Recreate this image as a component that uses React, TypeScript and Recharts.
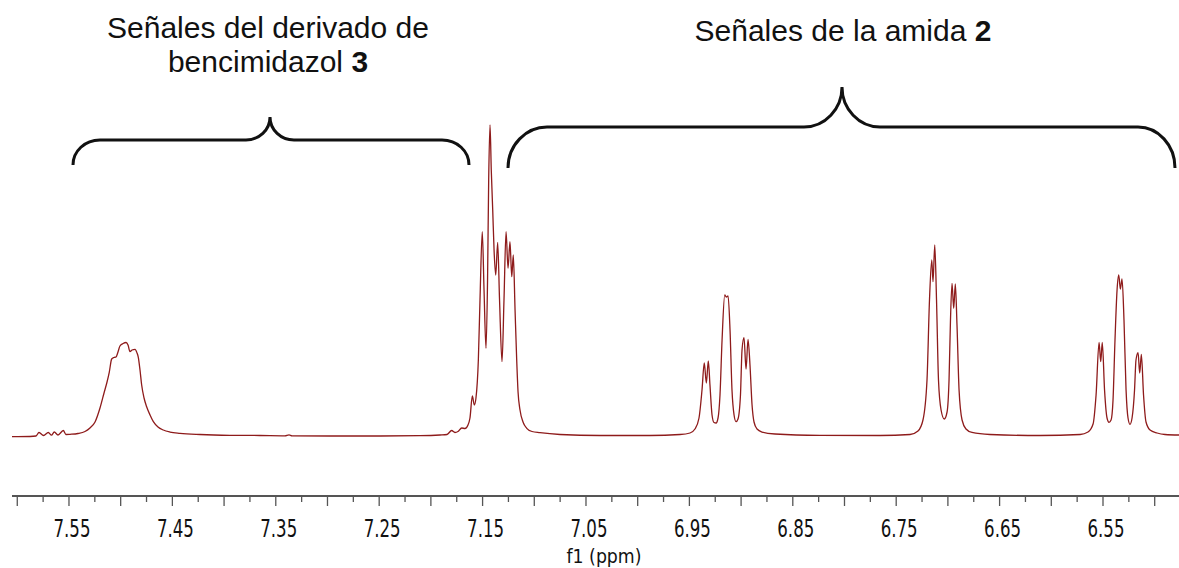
import { LineChart, Line, XAxis, YAxis } from "recharts";

// chemical shift (ppm) of each point
const shifts = [
  7.6051, 7.5877, 7.5819, 7.579, 7.5746, 7.57, 7.5669, 7.5642, 7.5606, 7.5555,
  7.5529, 7.549, 7.5413, 7.5345, 7.5297, 7.5248, 7.52, 7.5161, 7.5132, 7.511,
  7.5087, 7.5065, 7.5045, 7.5026, 7.5007, 7.4977, 7.4948, 7.4929, 7.491, 7.489,
  7.4861, 7.4842, 7.483, 7.4813, 7.4797, 7.4774, 7.4748, 7.4716, 7.4684, 7.4639,
  7.4588, 7.4523, 7.4426, 7.4233, 7.3943, 7.3653, 7.3411, 7.3372, 7.3343, 7.2976,
  7.2492, 7.2105, 7.1912, 7.1844, 7.1799, 7.1767, 7.1738, 7.1702, 7.167, 7.1641,
  7.1622, 7.1599, 7.158, 7.1564, 7.1541, 7.1525, 7.1503, 7.1486, 7.1467, 7.1452,
  7.1441, 7.1428, 7.1416, 7.1402, 7.1389, 7.1373, 7.1354, 7.1336, 7.1312, 7.1293,
  7.1273, 7.1254, 7.1235, 7.1218, 7.1203, 7.1186, 7.117, 7.1157, 7.1138, 7.1109,
  7.1073, 7.1022, 7.0945, 7.0751, 7.0364, 6.9881, 6.9591, 6.9494, 6.9446, 6.9407,
  6.9378, 6.9356, 6.9336, 6.9317, 6.9301, 6.9281, 6.9262, 6.9242, 6.9223, 6.9204,
  6.9184, 6.9158, 6.9143, 6.9126, 6.9107, 6.9088, 6.9068, 6.9049, 6.903, 6.9006,
  6.8991, 6.8972, 6.8952, 6.8933, 6.8914, 6.8894, 6.8875, 6.8846, 6.8798, 6.8672,
  6.8237, 6.7656, 6.7366, 6.7289, 6.7241, 6.7202, 6.7178, 6.7156, 6.7144, 6.7127,
  6.711, 6.7091, 6.7066, 6.7035, 6.7008, 6.6989, 6.6975, 6.696, 6.6944, 6.6928,
  6.6912, 6.6892, 6.6863, 6.6825, 6.6767, 6.6593, 6.6109, 6.5722, 6.5645, 6.5596,
  6.5567, 6.5538, 6.5522, 6.5507, 6.5485, 6.5461, 6.5442, 6.5422, 6.5403, 6.5384,
  6.5364, 6.5348, 6.5332, 6.5316, 6.5297, 6.5277, 6.5258, 6.5239, 6.5219, 6.5195,
  6.5181, 6.5161, 6.5145, 6.5129, 6.5108, 6.5084, 6.5045, 6.4977, 6.49, 6.4765,
];

// intensity (arbitrary units) at the same points
const intensity = [
  -0.23, -0.17, 0, 1.17, 0.17, 1.17, 0.27, 1.33, 0.33, 1.83,
  0.5, 0.57, 0.83, 1.5, 2.67, 4.67, 9.33, 14.33, 18, 21.33,
  25.67, 26.17, 26.33, 28, 30, 30.83, 31.17, 30.33, 28.17, 28.67,
  28.9, 27.67, 26.33, 22, 17, 12.67, 9.67, 7, 4.77, 3,
  2, 1.33, 0.9, 0.5, 0.23, 0.17, 0.07, 0.4, 0.07, 0,
  0, 0.1, 0.33, 0.5, 1.83, 1.17, 1.5, 2.67, 2.5, 3.67,
  6, 13.33, 10.33, 12.67, 25.33, 45.33, 68.1, 48.67, 29.23, 52,
  85.33, 103.67, 88.67, 75.33, 62, 53.67, 64.57, 45.33, 24.77, 45.33,
  68.1, 55.9, 64.77, 53.1, 60.33, 42, 25.33, 14.67, 8.67, 4.67,
  2.57, 1.5, 1.1, 0.5, 0.17, 0.17, 0.5, 1, 2.33, 6,
  15.33, 24.33, 17.67, 25, 17, 7, 4.5, 4.33, 6, 13.67,
  32, 47, 46.33, 46.67, 35.33, 15.33, 7, 4.77, 5.67, 13.67,
  28.67, 32.77, 22.33, 32.23, 23.67, 10.33, 4.67, 2.33, 1.33, 0.67,
  0.23, 0.17, 0.5, 1.67, 5.33, 18.67, 45.33, 58.67, 51.43, 63.67,
  45.33, 18.67, 8.67, 5.67, 8, 18.67, 38.67, 50.9, 42.57, 50.67,
  37, 15.33, 5.33, 2.33, 1.17, 0.5, 0.17, 0.5, 1.33, 4,
  13.67, 31.23, 24.77, 31.23, 15.33, 6, 4.57, 5.33, 12, 32,
  48.67, 53.67, 49, 52.33, 38.67, 15.33, 6, 3.9, 6, 15.33,
  25.33, 27.77, 21, 27.23, 13.67, 4.67, 2, 1, 0.5, 0.33,
];

const tickLabels = [
  "7.55", "7.45", "7.35", "7.25", "7.15", "7.05",
  "6.95", "6.85", "6.75", "6.65", "6.55",
];

const axisTitle = "f1 (ppm)";
const groupTitles = ["Señales del derivado de", "bencimidazol", "Señales de la amida"];
const groupNumbers = ["3", "2"];

const data = shifts.map((ppm, i) => ({ ppm, y: intensity[i] }));

// ticks every 0.025 ppm, long ones every 0.05
const tickValues = Array.from({ length: 45 }, (_, i) => +(7.6 - i * 0.025).toFixed(3));

const PpmTick = (props: any) => {
  const { x, y, payload } = props;
  const v = payload.value as number;
  const major = Math.round(v * 1000) % 50 === 0;
  const label = tickLabels.find((t) => Math.abs(parseFloat(t) - v) < 1e-6);
  return (
    <g>
      <line x1={x} y1={y} x2={x} y2={y + (major ? 10 : 6)} stroke="#555" strokeWidth={1.3} />
      {label && (
        <text
          x={x + 3}
          y={y + 41}
          textAnchor="middle"
          fontFamily="DejaVu Sans"
          fontSize={25}
          fill="#111"
          textLength={37}
          lengthAdjust="spacingAndGlyphs"
        >
          {label}
        </text>
      )}
    </g>
  );
};

const titleFont = { fontFamily: "Liberation Sans, Arial, sans-serif", fontSize: 30, fill: "#111" };

const App = () => {
  return (
    <div style={{ position: "absolute", left: 0, top: 0, width: 1179, height: 568, background: "#fff" }}>
      <LineChart
        width={1179}
        height={568}
        data={data}
        margin={{ top: 106, right: 0, left: 12, bottom: 12 }}
      >
        <XAxis
          dataKey="ppm"
          type="number"
          domain={[6.4765, 7.6051]}
          reversed
          allowDataOverflow
          ticks={tickValues}
          interval={0}
          tick={<PpmTick />}
          tickLine={false}
          tickSize={0}
          tickMargin={0}
          height={60}
          axisLine={{ stroke: "#555", strokeWidth: 2 }}
        />
        <YAxis hide type="number" domain={[-20, 110]} allowDataOverflow />
        <Line
          type="monotone"
          dataKey="y"
          stroke="#8e1b1b"
          strokeWidth={1.3}
          dot={false}
          isAnimationActive={false}
        />
      </LineChart>
      <svg
        width={1179}
        height={568}
        style={{ position: "absolute", left: 0, top: 0, pointerEvents: "none" }}
      >
        <text
          x={604}
          y={563}
          textAnchor="middle"
          fontFamily="DejaVu Sans"
          fontSize={20}
          fill="#111"
          textLength={75}
          lengthAdjust="spacingAndGlyphs"
        >
          {axisTitle}
        </text>
        <text x={268} y={38} textAnchor="middle" {...titleFont}>{groupTitles[0]}</text>
        <text x={268} y={72} textAnchor="middle" {...titleFont}>
          {groupTitles[1]} <tspan fontWeight="bold">{groupNumbers[0]}</tspan>
        </text>
        <text x={843} y={41} textAnchor="middle" {...titleFont}>
          {groupTitles[2]} <tspan fontWeight="bold">{groupNumbers[1]}</tspan>
        </text>
        <path
          d="M73,165 C73,151 85,140 100,140 L246,140 C259,140 270,130 270,117 C270,130 281,140 294,140 L442,140 C457,140 469,151 469,165"
          fill="none"
          stroke="#111"
          strokeWidth={3}
        />
        <path
          d="M508,168 C508,145 526,127 547,127 L804,127 C825,127 842,109 842,87 C842,109 859,127 880,127 L1138,127 C1158,127 1175,145 1175,168"
          fill="none"
          stroke="#111"
          strokeWidth={3}
        />
      </svg>
    </div>
  );
};

export default App;
